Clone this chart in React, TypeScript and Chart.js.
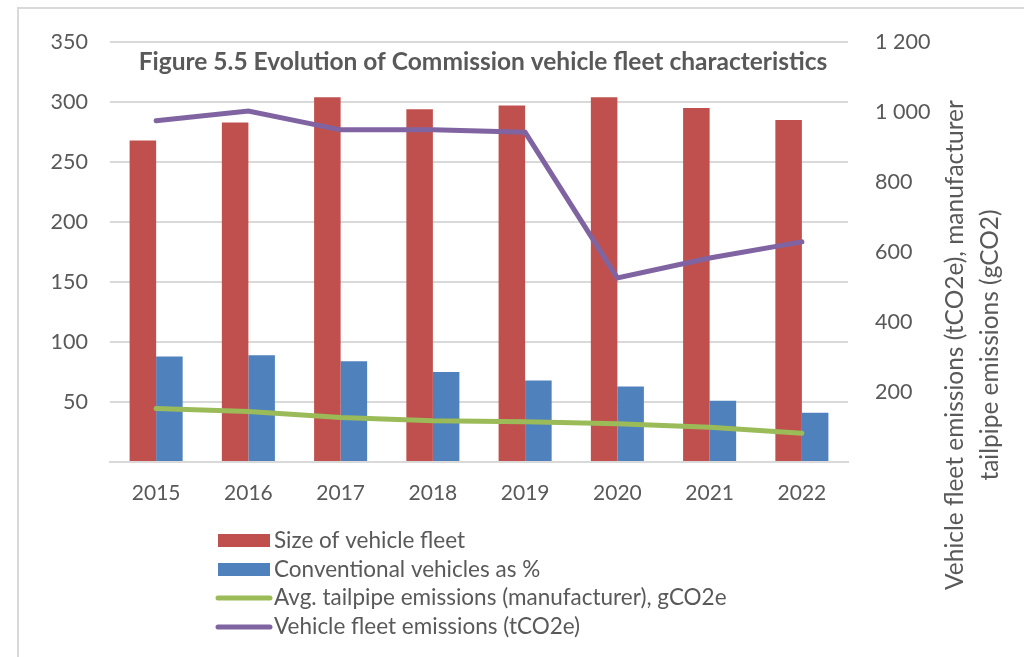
import React, { useEffect, useRef } from "react";
import { Chart, registerables } from "chart.js";

Chart.register(...registerables);

const years = ["2015", "2016", "2017", "2018", "2019", "2020", "2021", "2022"];
const fleetSize = [268, 283, 304, 294, 297, 304, 295, 285];
const conventionalPct = [88, 89, 84, 75, 68, 63, 51, 41];
const tailpipeEmissions = [153, 144, 127, 118, 115, 109, 99, 82];
const fleetEmissions = [975, 1003, 949, 949, 942, 526, 583, 629];
const leftTicks = [50, 100, 150, 200, 250, 300, 350];
const rightTicks = [200, 400, 600, 800, 1000, 1200];

const titleText = "Figure 5.5 Evolution of Commission vehicle fleet characteristics";
const rightTitle = ["Vehicle fleet emissions (tCO2e), manufacturer", "tailpipe emissions (gCO2)"];

const FONT = "Lato, 'Open Sans', sans-serif";
const TEXT = "#595959";
const GRID = "#d9d9d9";

const fmt = (v: number) => {
  const s = String(Math.round(v));
  return s.replace(/\B(?=(\d{3})+(?!\d))/g, " ");
};

const decorPlugin = {
  id: "decor",
  beforeDraw(chart: any) {
    const ctx = chart.ctx;
    ctx.save();
    ctx.strokeStyle = GRID;
    ctx.lineWidth = 2;
    ctx.strokeRect(18, 8, 1100, 800);
    ctx.restore();
  },
  afterDraw(chart: any) {
    const ctx = chart.ctx;
    const area = chart.chartArea;
    ctx.save();
    // title
    ctx.fillStyle = TEXT;
    ctx.font = `bold 24.5px ${FONT}`;
    ctx.textAlign = "center";
    ctx.textBaseline = "middle";
    ctx.fillText(titleText, (area.left + area.right) / 2 + 4, 62);
    // right axis title
    ctx.font = `24.5px ${FONT}`;
    ctx.save();
    ctx.translate(955, 345);
    ctx.rotate(-Math.PI / 2);
    ctx.fillText(rightTitle[0], 0, 0);
    ctx.fillText(rightTitle[1], 0, 35);
    ctx.restore();
    // legend
    const ds = chart.data.datasets;
    const rows = [541, 570, 598, 627];
    ctx.font = `22.5px ${FONT}`;
    ctx.textAlign = "left";
    ds.forEach((d: any, i: number) => {
      const y = rows[i];
      if (d.type === "line") {
        ctx.strokeStyle = d.borderColor;
        ctx.lineWidth = 5;
        ctx.lineCap = "round";
        ctx.beginPath();
        ctx.moveTo(218, y);
        ctx.lineTo(270, y);
        ctx.stroke();
      } else {
        ctx.fillStyle = d.backgroundColor;
        ctx.fillRect(218, y - 7, 52, 13);
      }
      ctx.fillStyle = TEXT;
      ctx.fillText(d.label, 274, y);
    });
    ctx.restore();
  },
};

export default function App() {
  const ref = useRef<HTMLCanvasElement>(null);
  useEffect(() => {
    document.body.style.margin = "0";
    const chart = new Chart(ref.current!, {
      type: "bar",
      data: {
        labels: years,
        datasets: [
          {
            type: "bar",
            label: "Size of vehicle fleet",
            data: fleetSize,
            backgroundColor: "#C0504D",
            yAxisID: "y",
            order: 2,
            categoryPercentage: 0.575,
            barPercentage: 1,
          },
          {
            type: "bar",
            label: "Conventional vehicles as %",
            data: conventionalPct,
            backgroundColor: "#4F81BD",
            yAxisID: "y",
            order: 2,
            categoryPercentage: 0.575,
            barPercentage: 1,
          },
          {
            type: "line",
            label: "Avg. tailpipe emissions (manufacturer), gCO2e",
            data: tailpipeEmissions,
            borderColor: "#9BBB59",
            backgroundColor: "#9BBB59",
            borderWidth: 5,
            pointRadius: 0,
            borderCapStyle: "round",
            yAxisID: "y1",
            order: 1,
          },
          {
            type: "line",
            label: "Vehicle fleet emissions (tCO2e)",
            data: fleetEmissions,
            borderColor: "#8064A2",
            backgroundColor: "#8064A2",
            borderWidth: 5,
            pointRadius: 0,
            borderCapStyle: "round",
            yAxisID: "y1",
            order: 0,
          },
        ] as any,
      },
      options: {
        animation: false,
        responsive: false,
        layout: { padding: { top: 42, left: 0, right: 0, bottom: 0 } },
        plugins: {
          legend: { display: false },
          title: { display: false },
          tooltip: { enabled: false },
        },
        scales: {
          x: {
            grid: { display: false, drawTicks: false },
            border: { color: GRID, width: 2 },
            ticks: { color: TEXT, font: { family: FONT, size: 21 }, padding: 19 },
            afterFit(s: any) {
              s.height = 195;
            },
          },
          y: {
            position: "left",
            min: 0,
            max: 350,
            afterBuildTicks(s: any) {
              s.ticks = [0, ...leftTicks].map((v) => ({ value: v }));
            },
            grid: { color: GRID, lineWidth: 2, drawTicks: false },
            border: { display: false },
            ticks: {
              color: TEXT,
              font: { family: FONT, size: 21.5 },
              padding: 22,
              callback: (v: any) => (Number(v) === 0 ? "" : String(v)),
            },
            afterFit(s: any) {
              s.width = 110;
            },
          },
          y1: {
            position: "right",
            min: 0,
            max: 1200,
            afterBuildTicks(s: any) {
              s.ticks = [0, ...rightTicks].map((v) => ({ value: v }));
            },
            grid: { display: false, drawTicks: false },
            border: { display: false },
            ticks: {
              color: TEXT,
              font: { family: FONT, size: 21.5 },
              padding: 27,
              align: "center",
              callback: (v: any) => (Number(v) === 0 ? "" : fmt(Number(v))),
            },
            afterFit(s: any) {
              s.width = 176;
            },
          },
        },
      } as any,
      plugins: [decorPlugin],
    });
    return () => chart.destroy();
  }, []);
  return <canvas ref={ref} width={1024} height={657} style={{ display: "block" }} />;
}
